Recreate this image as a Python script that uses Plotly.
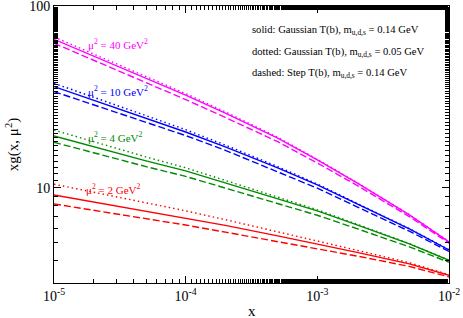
import math
import plotly.graph_objects as go

x_vals = [1e-5, 2e-5, 5e-5, 1e-4, 2e-4, 5e-4, 1e-3, 2e-3, 5e-3, 1e-2]

# mu^2 = 40 GeV^2 (magenta)
g40_solid = [65.6, 53.1, 40.2, 32.4, 25.8, 18.8, 14.26, 10.65, 7.11, 5.05]
g40_dotted = [67.6, 54.6, 41.2, 33.0, 26.2, 19.0, 14.35, 10.7, 7.13, 5.07]
g40_dashed = [62.4, 50.4, 38.1, 30.6, 24.4, 17.95, 13.7, 10.33, 6.95, 4.97]

# mu^2 = 10 GeV^2 (blue)
g10_solid = [36.05, 30.25, 24.1, 20.3, 16.8, 12.88, 10.39, 8.17, 5.95, 4.56]
g10_dotted = [37.6, 31.5, 24.9, 20.9, 17.2, 13.1, 10.5, 8.23, 5.97, 4.57]
g10_dashed = [33.85, 28.6, 22.9, 19.4, 16.1, 12.3, 9.96, 7.87, 5.78, 4.47]

# mu^2 = 4 GeV^2 (green)
g4_solid = [19.31, 16.8, 14.07, 12.4, 10.65, 8.76, 7.47, 6.26, 4.92, 4.00]
g4_dotted = [20.8, 17.9, 14.8, 12.9, 10.97, 8.94, 7.58, 6.32, 4.94, 4.0]
g4_dashed = [17.82, 15.57, 13.09, 11.57, 10.0, 8.25, 7.07, 5.97, 4.74, 3.9]

# mu^2 = 2 GeV^2 (red)
g2_solid = [9.15, 8.38, 7.47, 6.84, 6.22, 5.45, 4.92, 4.42, 3.82, 3.31]
g2_dotted = [10.48, 9.47, 8.31, 7.48, 6.69, 5.75, 5.11, 4.54, 3.88, 3.33]
g2_dashed = [8.16, 7.54, 6.78, 6.25, 5.71, 5.07, 4.66, 4.22, 3.70, 3.24]

x_tickvals = [1e-5, 1e-4, 1e-3, 1e-2]
x_ticktext = ["10<sup>-5</sup>", "10<sup>-4</sup>", "10<sup>-3</sup>", "10<sup>-2</sup>"]
y_tickvals = [10, 100]
y_ticktext = ["10", "100"]

curve_labels = ["μ<sup>2</sup> = 40 GeV<sup>2</sup>", "μ<sup>2</sup> = 10 GeV<sup>2</sup>",
                "μ<sup>2</sup> = 4 GeV<sup>2</sup>", "μ<sup>2</sup> = 2 GeV<sup>2</sup>"]
label_x = [1.75e-5, 1.75e-5, 1.75e-5, 1.7e-5]
label_y = [62.0, 34.0, 19.0, 9.9]

legend_lines = [
    "solid: Gaussian T(b), m<sub>u,d,s</sub> = 0.14 GeV",
    "dotted: Gaussian T(b), m<sub>u,d,s</sub> = 0.05 GeV",
    "dashed: Step T(b), m<sub>u,d,s</sub> = 0.14 GeV",
]

colors = ["#ff00ff", "#0000ff", "#008a00", "#ff0000"]
groups = [
    (g40_solid, g40_dotted, g40_dashed),
    (g10_solid, g10_dotted, g10_dashed),
    (g4_solid, g4_dotted, g4_dashed),
    (g2_solid, g2_dotted, g2_dashed),
]

W, H = 463, 318
L, R, T, B = 54, 14, 6, 35

FONT = "Liberation Serif"
fig = go.Figure()
for col, (s, d, ds) in zip(colors, groups):
    fig.add_trace(go.Scatter(x=x_vals, y=s, mode="lines", line=dict(color=col, width=1.4), showlegend=False))
    fig.add_trace(go.Scatter(x=x_vals, y=d, mode="lines", line=dict(color=col, width=1.4, dash="1.5px,3px"), showlegend=False))
    fig.add_trace(go.Scatter(x=x_vals, y=ds, mode="lines", line=dict(color=col, width=1.4, dash="7px,3px"), showlegend=False))

for txt, lx, ly, col in zip(curve_labels, label_x, label_y, colors):
    fig.add_annotation(x=math.log10(lx), y=math.log10(ly), xref="x", yref="y", text=txt, showarrow=False,
                       xanchor="left", yanchor="middle", font=dict(family=FONT, size=11, color=col))

for i, t in enumerate(legend_lines):
    px_y = 30 + 22 * i
    fig.add_annotation(x=(250 - L) / (W - L - R), y=1 - (px_y - T) / (H - T - B),
                       xref="paper", yref="paper", text=t, showarrow=False,
                       xanchor="left", yanchor="middle", font=dict(family=FONT, size=10.6, color="black"))

# x-axis title placed as an annotation just below tick labels
fig.add_annotation(x=(252 - L) / (W - L - R), y=1 - (311 - T) / (H - T - B), xref="paper", yref="paper",
                   text="x", showarrow=False, xanchor="center", yanchor="middle",
                   font=dict(family=FONT, size=15, color="black"))

axis_common = dict(showline=True, linecolor="black", linewidth=1, mirror="ticks",
                   ticks="inside", ticklen=7, tickcolor="black", tickwidth=1,
                   showgrid=False, zeroline=False, automargin=False, ticklabeloverflow="allow",
                   minor=dict(ticks="inside", ticklen=4, tickcolor="black", tickwidth=1, showgrid=False),
                   tickfont=dict(family=FONT, size=14, color="black"))

fig.update_xaxes(type="log", range=[-5, -2], tickvals=x_tickvals, ticktext=x_ticktext,
                 **axis_common)
fig.update_yaxes(type="log", range=[0.4771, 2.0002], tickvals=y_tickvals, ticktext=y_ticktext,
                 title=dict(text="xg(x, μ<sup>2</sup>)", font=dict(family=FONT, size=15, color="black"), standoff=6),
                 **axis_common)

fig.update_layout(width=W, height=H, margin=dict(l=L, r=R, t=T, b=B),
                  paper_bgcolor="white", plot_bgcolor="white")
fig.write_html("out.html", config={"displayModeBar": False, "staticPlot": True},
               post_script="document.body.style.margin='0';document.body.style.overflow='hidden';")
